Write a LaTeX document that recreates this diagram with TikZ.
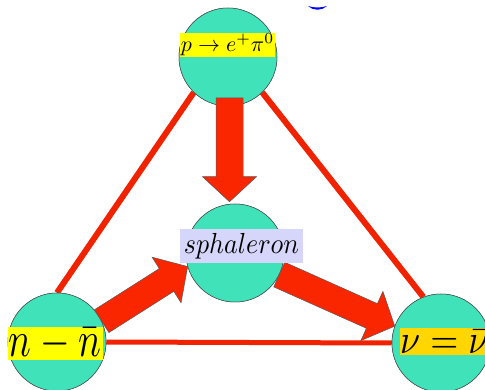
\documentclass[tikz,border=0pt]{standalone}
\usetikzlibrary{calc}
\definecolor{ballfill}{RGB}{64,226,186}
\definecolor{linered}{RGB}{240,34,0}
\definecolor{arrred}{RGB}{250,38,0}
\definecolor{lblyellow}{RGB}{255,255,0}
\definecolor{lblgold}{RGB}{255,214,0}
\definecolor{lbllav}{RGB}{214,214,250}
\tikzset{
  ball/.style={circle, draw=black!70, line width=0.5pt, fill=ballfill, minimum size=98pt, inner sep=0pt},
  redline/.style={draw=linered, line width=6pt},
  fatarr/.style={fill=arrred, draw=black!65, line width=0.5pt, line join=miter},
  lbl/.style={inner sep=0pt, anchor=center}
}
\newcommand\fatarrow[2]{%
  \path (#1) coordinate (fa-s) (#2) coordinate (fa-t);
  \coordinate (fa-h) at ($(fa-t)!25pt!(fa-s)$);
  \filldraw[fatarr] ($(fa-s)!13.5pt!90:(fa-t)$) -- ($(fa-h)!13.5pt!-90:(fa-s)$) -- ($(fa-h)!27pt!-90:(fa-s)$) -- (fa-t) -- ($(fa-h)!27pt!90:(fa-s)$) -- ($(fa-h)!13.5pt!90:(fa-s)$) -- ($(fa-s)!13.5pt!-90:(fa-t)$) -- cycle;}
\begin{document}
\begin{tikzpicture}[x=1pt,y=-1pt]
\useasboundingbox (0,0) rectangle (485,390);
\clip (0,0) rectangle (485,390);
% circles (placed first as named nodes, drawn on top of lines by order below)
\path (228,57) node[ball] (top) {};
\path (235,253) node[ball] (mid) {};
\path (57,342) node[ball] (bl) {};
\path (441,343) node[ball] (br) {};
% triangle lines
\draw[redline] (top.226) -- (bl.90);
\draw[redline] (top.314) -- (br.111);
\draw[draw=linered, line width=5pt] (bl.east) -- (br.west);
% redraw circles over lines
\node[ball] at (top.center) {};
\node[ball] at (mid.center) {};
\node[ball] at (bl.center) {};
\node[ball] at (br.center) {};
% fat arrows
\coordinate (a1s) at ([xshift=1.5pt,yshift=-41pt]top.center);
\coordinate (a1t) at ([yshift=2pt]a1s |- mid.north);
\fatarrow{a1s}{a1t}
\fatarrow{bl.25}{mid.196}
\fatarrow{mid.-26}{br.160}
% labels
\node[lbl, fill=lblyellow, minimum width=95pt, minimum height=24pt] (ltop) at (227.5,45) {\scalebox{2.2}{$p\to e^+\pi^0$}};
\node[lbl, fill=lbllav, minimum width=123pt, minimum height=34pt] (lmid) at (241.5,246) {\scalebox{2.6}[2.9]{$sphaleron$}};
\node[lbl, fill=lblyellow, minimum width=95pt, minimum height=33pt] (lbl) at (55,343.5) {\scalebox{3.8}[5.0]{$n-\bar n$}};
\node[inner sep=0pt, anchor=west, fill=lblgold, minimum height=27pt] (lbr) at (400,341.5) {\scalebox{3.6}[4.1]{$\nu=\bar\nu$}\hspace{8pt}};
% small blue mark at top
\fill[blue] (308,6) .. controls (313,11) and (322,11) .. (327,6) .. controls (321,8) and (314,8) .. (308,6) -- cycle;
\end{tikzpicture}
\end{document}
